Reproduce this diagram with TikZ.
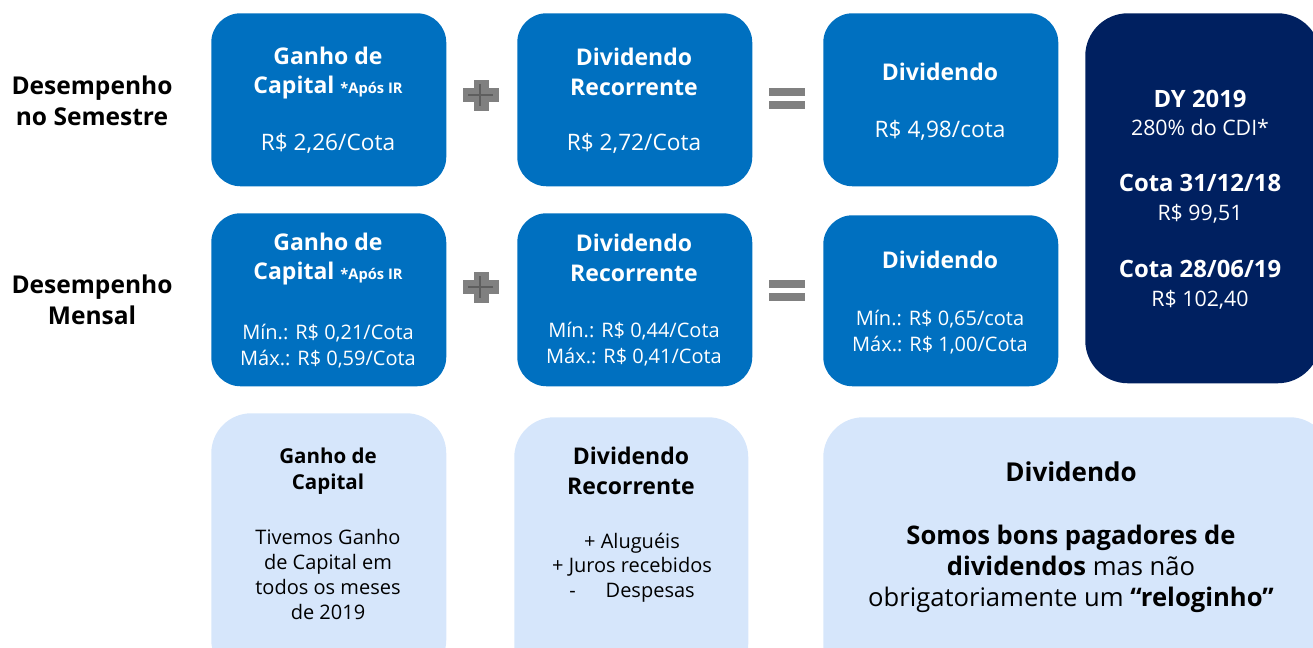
\documentclass[tikz,border=0pt]{standalone}
\usepackage{fontspec}
\setmainfont{Open Sans}
\definecolor{boxblue}{HTML}{0070C0}
\definecolor{navy}{HTML}{002060}
\definecolor{lightbox}{HTML}{D6E6FB}
\definecolor{signgray}{HTML}{808080}
\definecolor{signdark}{HTML}{5E5E5E}
\newcommand\fpx[2]{\fontsize{#1}{#2}\selectfont}
\begin{document}
\begin{tikzpicture}[x=0.75pt,y=-0.75pt,
  card/.style={anchor=north west, inner sep=0pt, draw=none, rounded corners=22pt},
  bluecard/.style={card, fill=boxblue, minimum width=176.25pt, minimum height=129.75pt},
  navycard/.style={card, fill=navy, rounded corners=32pt},
  lightcard/.style={card, fill=lightbox, rounded corners=30pt},
  txt/.style={inner sep=0pt, align=center, anchor=center},
  wtxt/.style={txt, text=white},
  ktxt/.style={txt, text=black},
  ttl/.style={font=\fpx{17.25pt}{22pt}\bfseries},
  val/.style={font=\fpx{17pt}{20pt}},
  mm/.style={font=\fpx{15pt}{19.5pt}},
  side/.style={font=\fpx{18.4pt}{23.25pt}\bfseries},
  nv/.style={wtxt, font=\fpx{16pt}{21.5pt}},
  plussign/.pic={
    \fill[signgray] (-18,-7) rectangle (18,7);
    \fill[signgray] (-7.5,-15.5) rectangle (7.5,15.5);
    \draw[signdark, line width=1.5pt] (-13,0) -- (12,0);
    \draw[signdark, line width=1.5pt] (-1,-11) -- (-1,11);
  },
  equalsign/.pic={
    \fill[signgray] (-18,-10.5) rectangle (18,-2.5);
    \fill[signgray] (-18,2.5) rectangle (18,10.5);
  }
]
\useasboundingbox (0,0) rectangle (1313,647);
\clip (0,0) rectangle (1313,647);

% side labels
\node[ktxt, side] (lsem) at (92,101) {Desempenho\\no Semestre};
\node[ktxt, side] (lmen) at (92,300) {Desempenho\\Mensal};

% row 1
\node[bluecard] (a1) at (211,13) {};
\node[bluecard] (b1) at (517,13) {};
\node[bluecard] (c1) at (823,13) {};
\node[wtxt, ttl] (a1t) at (328,73) {Ganho de\\Capital {\fpx{11pt}{12pt}*Após IR}};
\node[wtxt, val] (a1v) at (328,143) {R\$ 2,26/Cota};
\node[wtxt, ttl] (b1t) at (634,72) {Dividendo\\Recorrente};
\node[wtxt, val] (b1v) at (634,143) {R\$ 2,72/Cota};
\node[wtxt, ttl] (c1t) at (940,72) {Dividendo};
\node[wtxt, val] (c1v) at (940,130) {R\$ 4,98/cota};
\pic at (481,95) {plussign};
\pic at (787,98.5) {equalsign};

% row 2
\node[bluecard] (a2) at (211,213) {};
\node[bluecard] (b2) at (517,213) {};
\node[bluecard, minimum height=128.25pt] (c2) at (823,215) {};
\node[wtxt, ttl] (a2t) at (328,259) {Ganho de\\Capital {\fpx{11pt}{12pt}*Após IR}};
\node[wtxt, mm] (a2v) at (328,346) {Mín.: R\$ 0,21/Cota\\Máx.: R\$ 0,59/Cota};
\node[wtxt, ttl] (b2t) at (634,258) {Dividendo\\Recorrente};
\node[wtxt, mm] (b2v) at (634,344) {Mín.: R\$ 0,44/Cota\\Máx.: R\$ 0,41/Cota};
\node[wtxt, ttl] (c2t) at (940,260) {Dividendo};
\node[wtxt, mm] (c2v) at (940,332) {Mín.: R\$ 0,65/cota\\Máx.: R\$ 1,00/Cota};
\pic at (481,287) {plussign};
\pic at (787,290) {equalsign};

% navy card
\node[navycard, minimum width=176.25pt, minimum height=277.5pt] (d) at (1085,13) {};
\node[nv] (d1) at (1200,113) {{\fontsize{17.9pt}{21.5pt}\bfseries DY 2019}\\280\% do CDI*};
\node[nv] (d2) at (1200,199) {{\fontsize{17.9pt}{21.5pt}\bfseries Cota 31/12/18}\\R\$ 99,51};
\node[nv] (d3) at (1200,285) {{\fontsize{17.9pt}{21.5pt}\bfseries Cota 28/06/19}\\R\$ 102,40};

% bottom row
\node[lightcard, minimum width=176.25pt, minimum height=200pt] (a3) at (211,413) {};
\node[lightcard, minimum width=175.5pt, minimum height=200pt] (b3) at (514,417) {};
\node[lightcard, minimum width=380pt, minimum height=200pt] (c3) at (823,417) {};
\node[ktxt, font=\fpx{15.4pt}{20pt}\bfseries] (a3t) at (328,471) {Ganho de\\Capital};
\node[ktxt, font=\fpx{15pt}{18.75pt}] (a3b) at (328,574) {Tivemos Ganho\\de Capital em\\todos os meses\\de 2019};
\node[ktxt, ttl] (b3t) at (631,471) {Dividendo\\Recorrente};
\node[ktxt, font=\fpx{15pt}{18.4pt}] (b3b) at (632,567.5) {+ Aluguéis\\+ Juros recebidos\\-\hspace{1.5em}Despesas};
\node[ktxt, font=\fpx{19.5pt}{24pt}\bfseries] (c3t) at (1071,472) {Dividendo};
\node[ktxt, font=\fpx{19.2pt}{23.25pt}] (c3b) at (1071,569) {\textbf{Somos bons pagadores de}\\\textbf{dividendos} mas não\\obrigatoriamente um \textbf{“reloginho”}};
\end{tikzpicture}
\end{document}
